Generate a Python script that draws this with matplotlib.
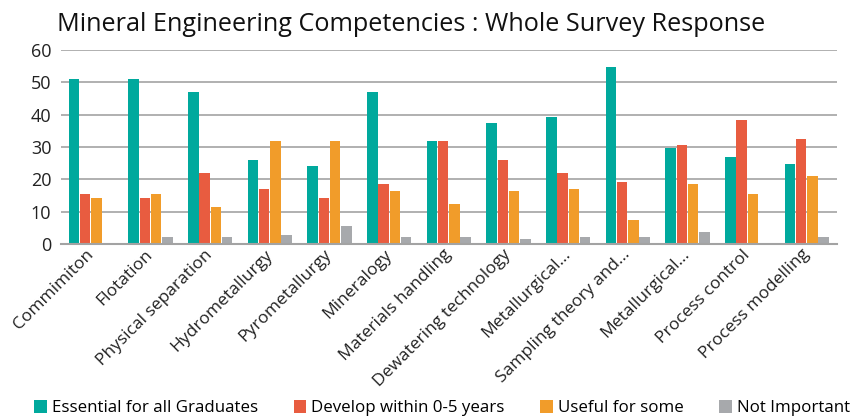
import matplotlib

matplotlib.use("Agg")

import matplotlib.pyplot as plt
import numpy as np

categories = [
    "Commimiton",
    "Flotation",
    "Physical separation",
    "Hydrometallurgy",
    "Pyrometallurgy",
    "Mineralogy",
    "Materials handling",
    "Dewatering technology",
    "Metallurgical...",
    "Sampling theory and...",
    "Metallurgical...",
    "Process control",
    "Process modelling",
]
essential = [51.1, 51.1, 47.1, 26.1, 24.2, 47.1, 32.0, 37.5, 39.4, 54.8, 29.8, 27.0, 24.8]
develop = [15.3, 14.3, 22.1, 17.1, 14.3, 18.4, 32.0, 26.1, 22.1, 19.3, 30.7, 38.5, 32.6]
useful = [14.3, 15.3, 11.5, 32.0, 32.0, 16.5, 12.5, 16.5, 17.1, 7.5, 18.4, 15.3, 21.1]
not_important = [0.0, 2.0, 2.0, 2.9, 5.7, 2.0, 2.0, 1.6, 2.0, 2.0, 3.8, 0.0, 2.0]

series = [
    ("Essential for all Graduates", essential, "#00A99D"),
    ("Develop within 0-5 years", develop, "#E85C40"),
    ("Useful for some", useful, "#F19C2A"),
    ("Not Important", not_important, "#A7A9AC"),
]

plt.rcParams["font.family"] = ["Open Sans", "DejaVu Sans"]

fig = plt.figure(figsize=(8.52, 4.17), dpi=100)
ax = fig.add_axes([0.0716, 0.415, 0.9104, 0.465])

x = np.arange(len(categories))
width = 0.176
offsets = (np.arange(len(series)) - 1.5) * (width + 0.012)
for (label, values, color), off in zip(series, offsets):
    ax.bar(x + off, values, width, color=color, label=label, zorder=2)

ax.set_xlim(-0.5, len(categories) - 0.5)
ax.set_ylim(0, 60)
ax.set_yticks(range(0, 61, 10))
ax.yaxis.grid(True, color="#a3a3a3", linewidth=1.2, zorder=0)
for side in ("left", "right", "top"):
    ax.spines[side].set_visible(False)
ax.spines["bottom"].set_color("#a3a3a3")
ax.spines["bottom"].set_linewidth(1.5)
ax.tick_params(axis="both", length=0, colors="#222222")
ax.tick_params(axis="y", pad=7, labelsize=13)
ax.tick_params(axis="x", pad=6)

ax.set_xticks(x)
ax.set_xticklabels(categories, rotation=45, ha="right", va="center",
                   rotation_mode="anchor", fontsize=12.5)

fig.text(0.067, 0.925, "Mineral Engineering Competencies : Whole Survey Response",
         fontsize=18.2, color="#111111", ha="left", va="baseline")

fig.legend(loc="lower center", bbox_to_anchor=(0.519, -0.035), ncol=4,
           frameon=False, fontsize=12.2, handlelength=0.75, handleheight=0.75,
           handletextpad=0.3, columnspacing=2.1)

fig.savefig("out.png", dpi=100)
